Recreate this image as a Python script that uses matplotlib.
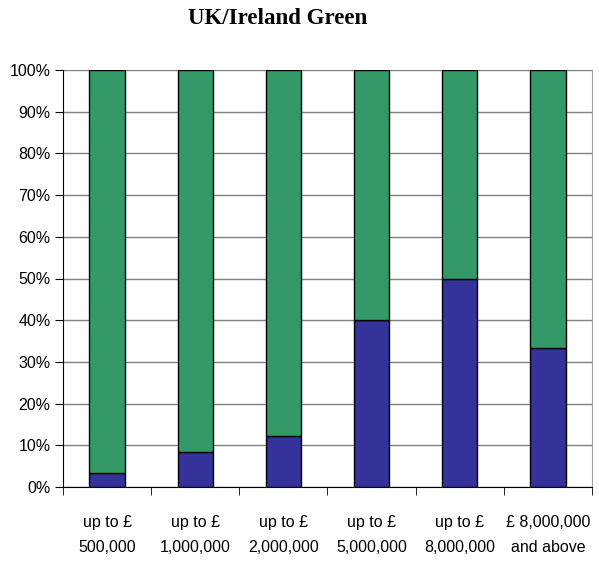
import matplotlib.pyplot as plt
import numpy as np

categories = ["up to £\n500,000", "up to £\n1,000,000", "up to £\n2,000,000",
              "up to £\n5,000,000", "up to £\n8,000,000", "£ 8,000,000\nand above"]
blue_share = [3.3, 8.4, 12.2, 40.0, 50.0, 33.4]
green_share = [100 - v for v in blue_share]

fig = plt.figure(figsize=(5.99, 5.62), dpi=100)
ax = fig.add_axes([63 / 599, 75 / 562, 529 / 599, 417 / 562])

x = np.arange(len(categories))
ax.bar(x, blue_share, width=0.4, color="#333399", edgecolor="black", linewidth=1, zorder=3)
ax.bar(x, green_share, width=0.4, bottom=blue_share, color="#339966",
       edgecolor="black", linewidth=1, zorder=3)

ax.set_xlim(-0.5, len(categories) - 0.5)
ax.set_ylim(0, 100)
ax.set_yticks(np.arange(0, 101, 10))
ax.set_yticklabels([f"{v}%" for v in range(0, 101, 10)], fontsize=11.5,
                   family="Liberation Sans")
ax.yaxis.grid(True, color="#808080", linewidth=1, zorder=0)

# category labels centred, tick marks between categories
ax.set_xticks(x)
ax.set_xticklabels(categories, fontsize=11.5, family="Liberation Sans", linespacing=1.85)
ax.tick_params(axis="x", length=0, pad=20)
ax.set_xticks(np.arange(-0.5, len(categories), 1), minor=True)
ax.tick_params(axis="x", which="minor", length=6, color="black", direction="out")
ax.tick_params(axis="y", length=6, color="black", direction="out", pad=3)

for s in ["top", "right"]:
    ax.spines[s].set_color("#a0a0a0")
for s in ["left", "bottom"]:
    ax.spines[s].set_color("black")
ax.spines["top"].set_visible(False)

fig.text(278 / 599, 1 - 19 / 562, "UK/Ireland Green", ha="center", va="center",
         fontsize=16.5, fontweight="bold", family="Liberation Serif")

fig.savefig("out.png", dpi=100)
